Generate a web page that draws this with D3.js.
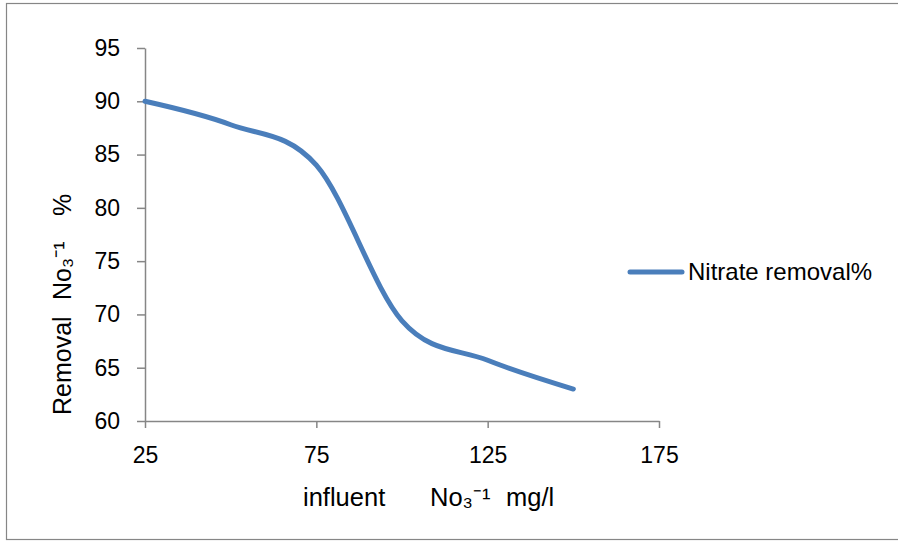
<!DOCTYPE html>
<html>
<head>
<meta charset="utf-8">
<script src="https://cdn.jsdelivr.net/npm/d3@7"></script>
<style>
  body { margin: 0; background: #fff; }
  text { font-family: "Liberation Sans", Arial, sans-serif; fill: #000; }
</style>
</head>
<body>
<svg id="chart" width="898" height="541"></svg>
<script>
   // values
   var influent = [25, 50, 75, 100, 125, 150];
   var removal = [90, 87.8, 84, 69.4, 65.7, 63];
   var xTicks = [25, 75, 125, 175];
   var yTicks = [60, 65, 70, 75, 80, 85, 90, 95];
   var seriesName = "Nitrate removal%";

   var svg = d3.select("#chart");
   var axisColor = "#868686";
   var lineColor = "#4a7ebb";

   // outer frame
   svg.append("rect")
      .attr("x", 6.5).attr("y", 3.5)
      .attr("width", 900).attr("height", 536)
      .attr("fill", "none")
      .attr("stroke", axisColor)
      .attr("stroke-width", 1.2);

   var x = d3.scaleLinear().domain([25, 175]).range([145, 659]);
   var y = d3.scaleLinear().domain([60, 95]).range([421, 48]);

   var xAxis = svg.append("g")
      .attr("transform", "translate(0," + y(60) + ")")
      .call(d3.axisBottom(x).tickValues(xTicks).tickSize(7).tickSizeOuter(0));
   var yAxis = svg.append("g")
      .attr("transform", "translate(" + x(25) + ",0)")
      .call(d3.axisLeft(y).tickValues(yTicks).tickSize(8).tickSizeOuter(0).tickPadding(17));

   [xAxis, yAxis].forEach(function(a) {
      a.select(".domain").attr("stroke", axisColor).attr("stroke-width", 1.5);
      a.selectAll(".tick line").attr("stroke", axisColor).attr("stroke-width", 1.5);
      a.selectAll(".tick text")
         .style("font-size", "23px")
         .style("font-family", "'Liberation Sans', Arial, sans-serif")
         .attr("fill", "#000");
   });
   xAxis.selectAll(".tick text").attr("y", 42).attr("dy", 0);

   var line = d3.line()
      .x(function(d, i) { return x(influent[i]); })
      .y(function(d) { return y(d); })
      .curve(d3.curveCatmullRom.alpha(0));

   svg.append("path")
      .datum(removal)
      .attr("d", line)
      .attr("fill", "none")
      .attr("stroke", lineColor)
      .attr("stroke-width", 5)
      .attr("stroke-linecap", "round")
      .attr("stroke-linejoin", "round");

   // axis titles, words placed like the original
   var xTitle = svg.append("text")
      .attr("y", 506)
      .style("font-size", "25.5px");
   xTitle.append("tspan").attr("x", 303).text("influent");
   xTitle.append("tspan").attr("x", 430).text("No\u2083\u207b\u00b9");
   xTitle.append("tspan").attr("x", 506).text("mg/l");

   var yTitle = svg.append("text")
      .attr("transform", "translate(71,0) rotate(-90)")
      .style("font-size", "25px");
   yTitle.append("tspan").attr("x", -415).text("Removal");
   yTitle.append("tspan").attr("x", -300).text("No\u2083\u207b\u00b9");
   yTitle.append("tspan").attr("x", -216).text("%");

   // legend
   var legend = svg.append("g").attr("transform", "translate(628,272)");
   legend.append("line")
      .attr("x1", 2).attr("x2", 54)
      .attr("y1", 0).attr("y2", 0)
      .attr("stroke", lineColor)
      .attr("stroke-width", 5)
      .attr("stroke-linecap", "round");
   legend.append("text")
      .attr("x", 60).attr("y", 8)
      .style("font-size", "24px")
      .text(seriesName);
</script>
</body>
</html>
